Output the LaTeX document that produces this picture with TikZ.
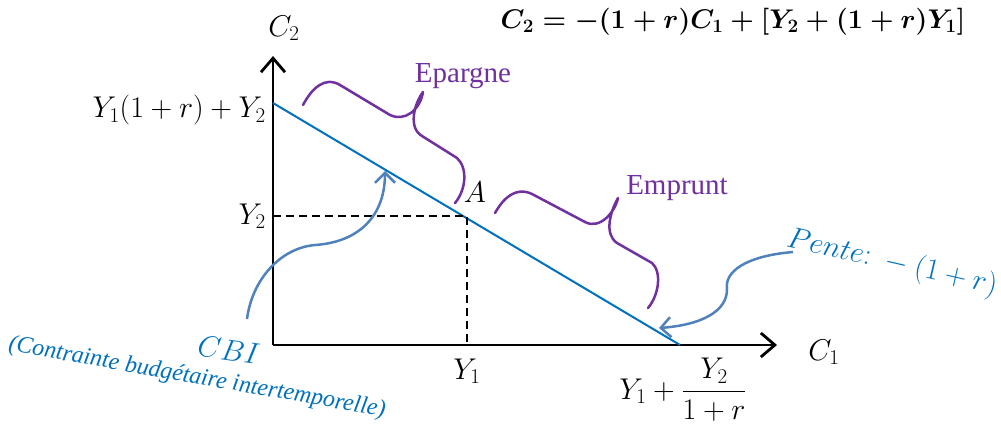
\RequirePackage{fix-cm}
\documentclass[tikz,border=0pt]{standalone}
\usepackage{fontspec}
\usetikzlibrary{arrows.meta}
\newfontfamily\tnr{Liberation Serif}
\definecolor{lineblue}{HTML}{0070C0}
\definecolor{arrowblue}{HTML}{4F81BD}
\definecolor{bracepurple}{HTML}{7030A0}
\tikzset{
  axis/.style={line width=2.8pt,-{Straight Barb[length=14pt,width=24pt]}},
  budget/.style={lineblue,line width=2pt},
  guide/.style={line width=2pt,dash pattern=on 8pt off 5pt},
  bracepath/.style={bracepurple,line width=2.5pt,line cap=round,line join=round},
  callout/.style={arrowblue,line width=2.5pt,-{Straight Barb[length=10pt,width=20pt]}},
  mathlbl/.style={font=\fontsize{30}{34}\selectfont,inner sep=1pt},
  eqlbl/.style={font=\fontsize{27}{32}\selectfont\mathversion{bold},inner sep=1pt},
  wordlbl/.style={bracepurple,font=\tnr\fontsize{29}{32}\selectfont,inner sep=1pt},
}
\begin{document}
\begin{tikzpicture}[x=1pt,y=-1pt]
\useasboundingbox (0,0) rectangle (1001,426);
% axes
\coordinate (O) at (273,345);
\coordinate (ytip) at (273,56);
\coordinate (xtip) at (777,345);
\draw[axis] (O) -- (ytip);
\draw[axis] (O) -- (xtip);
% budget line
\coordinate (top) at (273,103);
\coordinate (bot) at (680,345);
\draw[budget] (top) -- (bot);
% point A and guides
\coordinate (A) at (467,216);
\coordinate (Ay) at (273,216);
\coordinate (Ax) at (467,345);
\draw[guide] (Ay) -- (A) -- (Ax);
% axis labels
\node[mathlbl] (c2) at (284,28) {$C_2$};
\node[mathlbl] (c1) at (824,352) {$C_1$};
\node[mathlbl,anchor=east] (ytop) at (267,110) {$Y_1(1+r)+Y_2$};
\node[mathlbl,anchor=east] (y2) at (267,216) {$Y_2$};
\node[mathlbl] (y1) at (467,371) {$Y_1$};
\node[mathlbl] (ybot) at (683,390) {$\displaystyle Y_1+\frac{Y_2}{1+r}$};
\node[mathlbl] (alab) at (475,192) {$A$};
% equation
\node[eqlbl] (eqn) at (733,22) {$C_2=-(1+r)C_1+\lbrack Y_2+(1+r)Y_1\rbrack$};
% braces
\draw[bracepath] (303,105) .. controls (312,88) and (325,76) .. (340,85)
  -- (390,115) .. controls (405,122) and (420,110) .. (423,92)
  .. controls (414,104) and (408,128) .. (422,136)
  -- (457,158) .. controls (468,168) and (466,190) .. (455,203);
\node[wordlbl] (ep) at (463,76) {Epargne};
\draw[bracepath] (495,213) .. controls (503,199) and (515,186) .. (532,194)
  -- (585,222) .. controls (600,230) and (615,212) .. (618,198)
  .. controls (610,212) and (604,234) .. (617,243)
  -- (652,263) .. controls (662,272) and (659,295) .. (648,308);
\node[wordlbl] (em) at (677,188) {Emprunt};
% CBI callout
\node[lineblue,mathlbl,rotate=-8] (cbi) at (229,350) {$CBI$};
\node[lineblue,font=\tnr\itshape\fontsize{24}{28}\selectfont,rotate=-10,inner sep=0pt] (cbilong) at (197,378) {(Contrainte budgétaire intertemporelle)};
\coordinate (cbistart) at (247,319);
\coordinate (cbiend) at (385,171);
\draw[callout] (cbistart) .. controls (252,280) and (280,248) .. (315,245) .. controls (360,242) and (385,215) .. (cbiend);
% Pente callout
\node[lineblue,mathlbl,rotate=-13] (pente) at (892,263) {$Pente{:}\;-(1+r)$};
\coordinate (pstart) at (793,252);
\coordinate (pend) at (659,328);
\draw[callout] (pstart) .. controls (745,256) and (725,272) .. (727,288) .. controls (728,312) and (700,325) .. (pend);
\end{tikzpicture}
\end{document}
